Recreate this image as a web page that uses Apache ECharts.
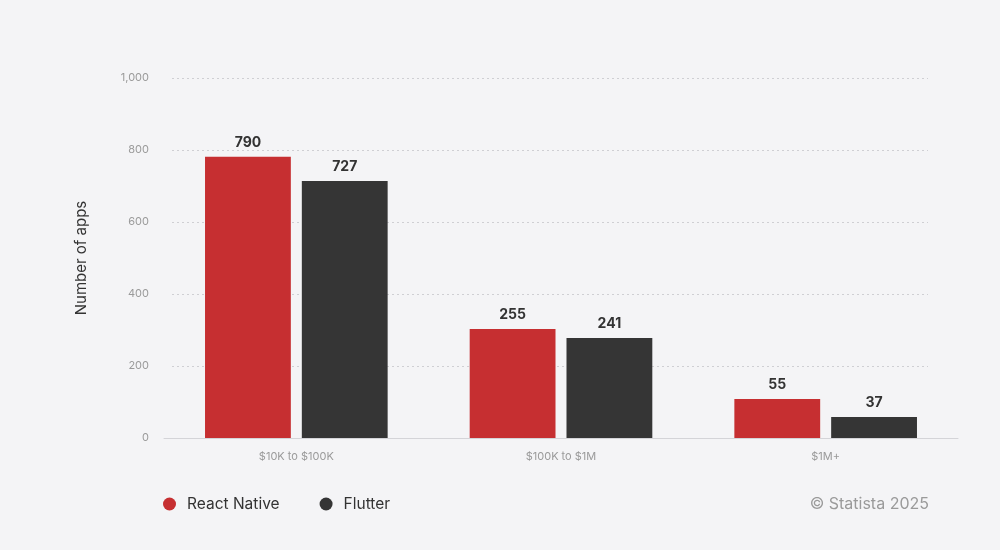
<!DOCTYPE html>
<html>
<head>
<meta charset="utf-8">
<script src="https://cdn.jsdelivr.net/npm/echarts@6/dist/echarts.min.js"></script>
<style>
html,body{margin:0;padding:0;background:#f4f4f6;}
#chart{width:1000px;height:550px;}
</style>
</head>
<body>
<div id="chart"></div>
<script>
const categories = ['$10K to $100K', '$100K to $1M', '$1M+'];
// bar heights as drawn in the picture
const reactNative = [781, 303, 108];
const flutter = [714, 278, 58];
// printed value labels
const reactNativeLabels = [790, 255, 55];
const flutterLabels = [727, 241, 37];
const yTicks = { min: 0, max: 1000, interval: 200 };

const font = 'Inter, "Noto Sans", sans-serif';
const chart = echarts.init(document.getElementById('chart'));

function labelFor(arr) {
  return {
    show: true, position: 'top', distance: 7,
    color: '#333', fontSize: 14, fontWeight: 'bold', fontFamily: font,
    formatter: p => String(arr[p.dataIndex])
  };
}

chart.setOption({
  backgroundColor: '#f4f4f6',
  animation: false,
  grid: [
    { left: 164, right: 42, top: 78, bottom: 112 },
    { left: 172, right: 72, top: 78, bottom: 112 }
  ],
  legend: {
    data: ['React Native', 'Flutter'],
    left: 158, top: 491,
    icon: 'circle', itemWidth: 13, itemHeight: 13, itemGap: 40,
    textStyle: { color: '#333', fontSize: 15.5, fontFamily: font, padding: [0, 0, 0, 6] }
  },
  xAxis: [
    {
      type: 'category', data: categories, gridIndex: 0,
      axisLine: { show: true, lineStyle: { color: '#d4d4d8', width: 1 } },
      axisTick: { show: false },
      axisLabel: { color: '#9a9a9a', fontSize: 11, fontFamily: font, margin: 13 }
    },
    { type: 'value', gridIndex: 1, show: false, min: 0, max: 1 }
  ],
  yAxis: [
    {
      type: 'value', gridIndex: 0, min: yTicks.min, max: yTicks.max, interval: yTicks.interval,
      name: 'Number of apps', nameLocation: 'middle', nameGap: 75, nameRotate: 90,
      nameTextStyle: { color: '#333', fontSize: 15, fontFamily: font },
      axisLine: { show: false }, axisTick: { show: false },
      axisLabel: {
        color: '#9a9a9a', fontSize: 11, fontFamily: font, margin: 15,
        formatter: v => v.toLocaleString('en-US')
      },
      splitLine: { show: false }
    },
    {
      type: 'value', gridIndex: 1, min: yTicks.min, max: yTicks.max, interval: yTicks.interval,
      axisLine: { show: false }, axisTick: { show: false }, axisLabel: { show: false },
      splitLine: { show: true, lineStyle: { color: '#cfcfd3', type: [2, 3], width: 1 } }
    }
  ],
  series: [
    {
      name: 'React Native', type: 'bar', data: reactNative,
      xAxisIndex: 0, yAxisIndex: 0,
      itemStyle: { color: '#c62f31' },
      barGap: '12.8%', barCategoryGap: '31%',
      label: labelFor(reactNativeLabels)
    },
    {
      name: 'Flutter', type: 'bar', data: flutter,
      xAxisIndex: 0, yAxisIndex: 0,
      itemStyle: { color: '#353535' },
      label: labelFor(flutterLabels)
    }
  ],
  graphic: [
    {
      type: 'text', right: 71, top: 496,
      style: { text: '© Statista 2025', fill: '#9a9a9a', fontSize: 16, fontFamily: font }
    }
  ]
});
</script>
</body>
</html>
